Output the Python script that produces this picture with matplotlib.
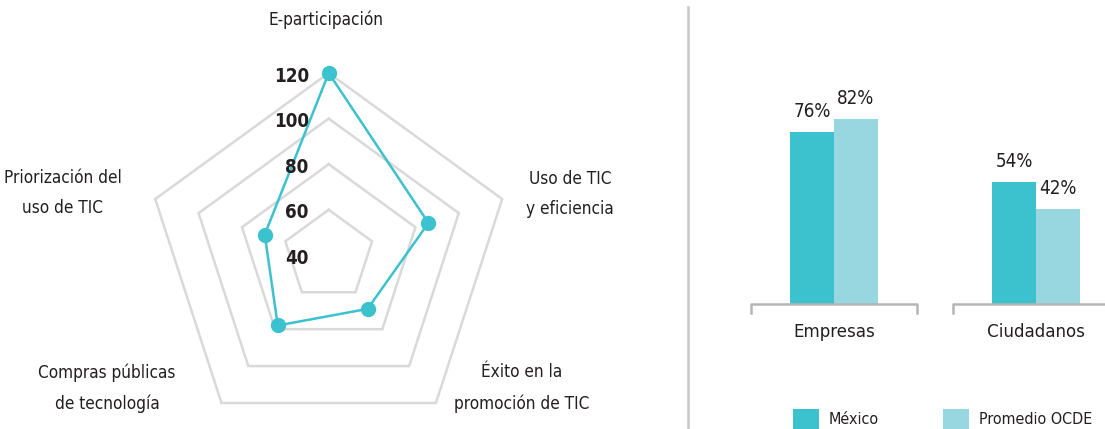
import numpy as np
import matplotlib
matplotlib.use("Agg")
import matplotlib.pyplot as plt
from matplotlib import font_manager
from matplotlib.lines import Line2D
from matplotlib.patches import Patch

# prefer a condensed face (the original uses a condensed sans)
rank = {"condensed": 0, "semi-condensed": 1, "extra-condensed": 2}
cands = [f for f in font_manager.fontManager.ttflist
         if f.stretch in rank and f.style == "normal" and "CJK" not in f.name]
cands.sort(key=lambda f: rank[f.stretch])
if cands:
    plt.rcParams["font.family"] = [cands[0].name, "DejaVu Sans"]
    plt.rcParams["font.stretch"] = cands[0].stretch
    FS = 12.3
else:
    plt.rcParams["font.family"] = ["Roboto", "DejaVu Sans"]
    FS = 11

TEXT = "#231f20"
GRID = "#d9d9d9"
TEAL = "#3cc1cf"
LIGHT = "#98d7e0"
BRACKET = "#b5b5b5"

# radar data
radar_labels = ["E-participación", "Uso de TIC\ny eficiencia", "Éxito en la\npromoción de TIC",
                "Compras públicas\nde tecnología", "Priorización del\nuso de TIC"]
radar_values = [120, 86, 69, 78, 69.5]
radar_rings = [60, 80, 100, 120]
radar_ticks = [40, 60, 80, 100, 120]
r_min = 40

# bar data
bar_groups = ["Empresas", "Ciudadanos"]
mexico = [76, 54]
ocde = [82, 42]
series_names = ["México", "Promedio OCDE"]

W, H = 1105, 429
fig = plt.figure(figsize=(W / 100, H / 100), dpi=100)
fig.patch.set_facecolor("white")

# ---- radar (cartesian axes, 2.28 px per unit) ----
scale = 2.28
cx, cy = 328.7, H - 255.4
axr = fig.add_axes([0, 0, 680 / W, 1])
axr.set_xlim(-cx / scale, (680 - cx) / scale)
axr.set_ylim(-cy / scale, (H - cy) / scale)
axr.axis("off")

n = len(radar_values)
angles = np.deg2rad(90 - 72 * np.arange(n))
closed = np.append(angles, angles[0])

for ring in radar_rings:
    r = ring - r_min
    axr.plot(r * np.cos(closed), r * np.sin(closed), color=GRID, lw=1.8,
             solid_joinstyle="miter", zorder=1)

vals = np.array(radar_values) - r_min
vals_c = np.append(vals, vals[0])
axr.plot(vals_c * np.cos(closed), vals_c * np.sin(closed), color=TEAL, lw=1.8,
         zorder=3)
axr.plot(vals * np.cos(angles), vals * np.sin(angles), "o", color=TEAL,
         markersize=10, zorder=4)

for t in radar_ticks:
    axr.text(-20 / scale, t - r_min - 3 / scale, str(t), ha="right", va="center",
             fontsize=FS + 1.2, fontweight="bold", color=TEXT, zorder=5)

# category labels around the radar (figure pixels)
label_pos = [(326, 20), (570, 194), (522, 388), (107, 388), (63, 193)]
for lab, (px, py) in zip(radar_labels, label_pos):
    fig.text(px / W, 1 - py / H, lab, ha="center", va="center", fontsize=FS,
             color=TEXT, linespacing=1.88)

# divider
fig.add_artist(Line2D([688 / W, 688 / W], [0, 1 - 7 / H], color="#c8c8c8", lw=1.8))

# ---- bars ----
px_per_unit = 202
gx0 = 834
base = H - 304
axb = fig.add_axes([690 / W, base / H, (W - 690) / W, 226 / H])
axb.set_xlim((690 - gx0) / px_per_unit, (W - gx0) / px_per_unit)
axb.set_ylim(0, 100)
axb.axis("off")

x = np.arange(len(bar_groups))
bw = 44 / px_per_unit
b1 = axb.bar(x - bw / 2, mexico, bw, color=TEAL)
b2 = axb.bar(x + bw / 2, ocde, bw, color=LIGHT)
for bars, vals_ in ((b1, mexico), (b2, ocde)):
    for b, v in zip(bars, vals_):
        axb.annotate(f"{v}%", (b.get_x() + b.get_width() / 2, v),
                     xytext=(0, 8), textcoords="offset points", ha="center",
                     va="bottom", fontsize=FS + 1.2, color=TEXT)

half = 0.41
for xi, g in zip(x, bar_groups):
    axb.plot([xi - half, xi - half, xi + half, xi + half], [-4, 0, 0, -4],
             color=BRACKET, lw=1.8, clip_on=False)
    axb.text(xi, -12.5, g, ha="center", va="center", fontsize=FS + 1, color=TEXT)

handles = [Patch(facecolor=TEAL, label=series_names[0]),
           Patch(facecolor=LIGHT, label=series_names[1])]
fig.legend(handles=handles, loc="center left", bbox_to_anchor=(793 / W, 1 - 419 / H),
           ncol=2, frameon=False, fontsize=FS - 0.8, handlelength=1.6, handleheight=1.6,
           handletextpad=0.65, columnspacing=4.0, borderpad=0, borderaxespad=0,
           labelcolor=TEXT)

fig.savefig("out.png", dpi=100, facecolor="white")
